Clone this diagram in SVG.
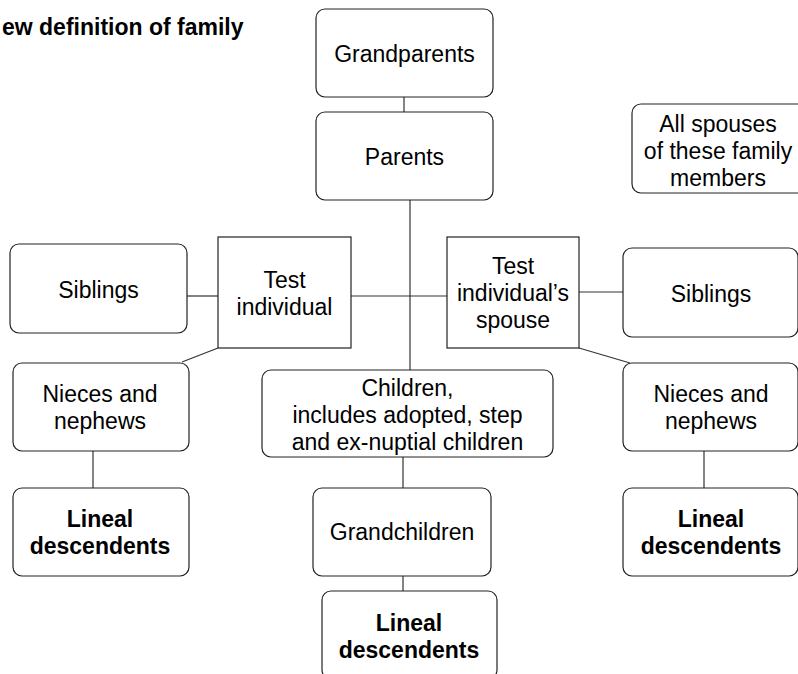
<svg xmlns="http://www.w3.org/2000/svg" width="798" height="674" viewBox="0 0 798 674">
  <style>
    .box { fill: #ffffff; stroke: #222222; stroke-width: 1.2; }
    .link { stroke: #333333; stroke-width: 1.2; fill: none; }
    text { font-family: "Liberation Sans", Arial, sans-serif; font-size: 23px; fill: #000000; text-anchor: middle; }
    .bold { font-weight: bold; }
    .title { text-anchor: start; font-weight: bold; }
  </style>
  <rect width="798" height="674" fill="#ffffff"/>

  <text class="title" x="2" y="35">ew definition of family</text>

  <!-- connectors -->
  <g id="connectors">
    <line class="link" x1="404" y1="97" x2="404" y2="112"/>
    <line class="link" x1="410" y1="200" x2="410" y2="370"/>
    <line class="link" x1="187" y1="296" x2="218" y2="296"/>
    <line class="link" x1="351" y1="296" x2="447" y2="296"/>
    <line class="link" x1="579" y1="292" x2="623" y2="292"/>
    <line class="link" x1="218" y1="348" x2="182" y2="362"/>
    <line class="link" x1="579" y1="348" x2="630" y2="363"/>
    <line class="link" x1="93" y1="451" x2="93" y2="488"/>
    <line class="link" x1="403" y1="457" x2="403" y2="488"/>
    <line class="link" x1="403" y1="576" x2="403" y2="591"/>
    <line class="link" x1="704" y1="451" x2="704" y2="488"/>
  </g>

  <g id="grandparents">
    <rect class="box" x="316" y="9" width="177" height="88" rx="9"/>
    <text x="404.5" y="62">Grandparents</text>
  </g>

  <g id="parents">
    <rect class="box" x="316" y="112" width="177" height="88" rx="9"/>
    <text x="404.5" y="165">Parents</text>
  </g>

  <g id="all-spouses">
    <rect class="box" x="632" y="104" width="175" height="89" rx="9"/>
    <text x="718" y="131.5">All spouses</text>
    <text x="718" y="158.5">of these family</text>
    <text x="718" y="185.5">members</text>
  </g>

  <g id="siblings-left">
    <rect class="box" x="10" y="244" width="177" height="89" rx="9"/>
    <text x="98.5" y="297.5">Siblings</text>
  </g>

  <g id="test-individual">
    <rect class="box" x="218" y="237" width="133" height="111"/>
    <text x="284.5" y="288">Test</text>
    <text x="284.5" y="315">individual</text>
  </g>

  <g id="test-spouse">
    <rect class="box" x="447" y="237" width="132" height="111"/>
    <text x="513" y="274">Test</text>
    <text x="513" y="301">individual’s</text>
    <text x="513" y="328">spouse</text>
  </g>

  <g id="siblings-right">
    <rect class="box" x="623" y="248" width="175" height="89" rx="9"/>
    <text x="711" y="301.5">Siblings</text>
  </g>

  <g id="nieces-left">
    <rect class="box" x="13" y="363" width="176" height="88" rx="9"/>
    <text x="100" y="401.5">Nieces and</text>
    <text x="100" y="428.5">nephews</text>
  </g>

  <g id="children">
    <rect class="box" x="262" y="370" width="291" height="87" rx="9"/>
    <text x="407.5" y="396">Children,</text>
    <text x="407.5" y="423">includes adopted, step</text>
    <text x="407.5" y="450">and ex-nuptial children</text>
  </g>

  <g id="nieces-right">
    <rect class="box" x="623" y="363" width="175" height="88" rx="9"/>
    <text x="711" y="401.5">Nieces and</text>
    <text x="711" y="428.5">nephews</text>
  </g>

  <g id="lineal-left">
    <rect class="box" x="13" y="488" width="176" height="88" rx="9"/>
    <text class="bold" x="100" y="527">Lineal</text>
    <text class="bold" x="100" y="554">descendents</text>
  </g>

  <g id="grandchildren">
    <rect class="box" x="313" y="488" width="178" height="88" rx="9"/>
    <text x="402" y="540">Grandchildren</text>
  </g>

  <g id="lineal-right">
    <rect class="box" x="623" y="488" width="175" height="88" rx="9"/>
    <text class="bold" x="711" y="527">Lineal</text>
    <text class="bold" x="711" y="554">descendents</text>
  </g>

  <g id="lineal-bottom">
    <rect class="box" x="322" y="591" width="175" height="88" rx="9"/>
    <text class="bold" x="409" y="631">Lineal</text>
    <text class="bold" x="409" y="658">descendents</text>
  </g>
</svg>
